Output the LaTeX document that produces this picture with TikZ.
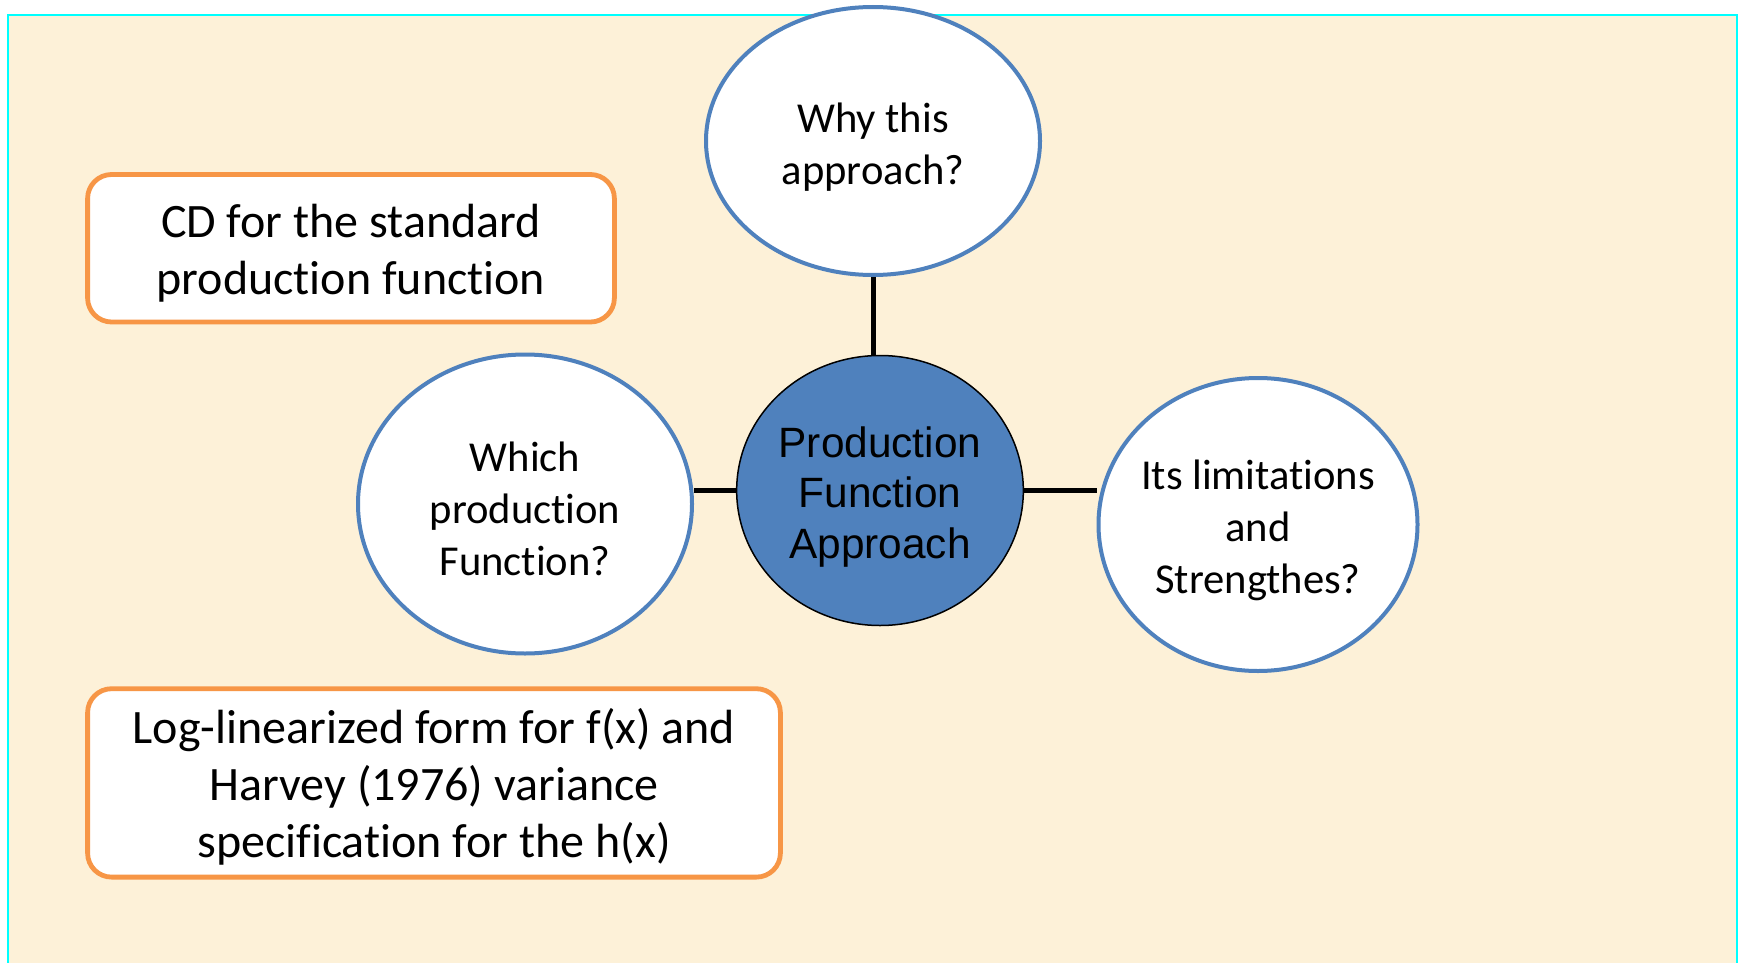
\documentclass[tikz,border=0pt]{standalone}
\usepackage{fontspec}
\setmainfont{Carlito}[Ligatures=NoCommon]
\newfontfamily\arialfont{Liberation Sans}
\usetikzlibrary{shapes.geometric}
\definecolor{parchment}{RGB}{253,241,216}
\definecolor{frameline}{RGB}{0,255,255}
\definecolor{bubbleblue}{RGB}{79,129,189}
\definecolor{boxorange}{RGB}{247,150,70}
\newcommand{\sink}[1]{\rule{0pt}{#1}}
\pgfdeclarelayer{paper}
\pgfdeclarelayer{back}
\pgfsetlayers{paper,back,main}
\tikzset{
  bubble/.style={ellipse, draw=bubbleblue, line width=2pt, fill=white, inner sep=0pt, align=center, font=\fontsize{21.3}{26}\selectfont},
  hub/.style={ellipse, draw=black, line width=0.75pt, fill=bubbleblue, inner sep=0pt, align=center, minimum width=143pt, minimum height=135pt, font=\arialfont\fontsize{21.2}{25.3}\selectfont},
  notebox/.style={rectangle, rounded corners=12pt, draw=boxorange, line width=2.4pt, fill=white, inner sep=0pt, align=center, font=\fontsize{24}{28.5}\selectfont},
  spoke/.style={line width=2.5pt, black}
}
\begin{document}
\begin{tikzpicture}[x=0.5pt,y=-0.5pt]
\useasboundingbox (0,0) rectangle (1745,963);
\begin{pgfonlayer}{paper}
\fill[parchment] (8,15) rectangle (1737,963);
\draw[frameline, line width=1pt] (8,963) -- (8,15) -- (1737,15) -- (1737,963);
\end{pgfonlayer}

\node[bubble, minimum width=167pt, minimum height=134pt] (why) at (873,141) {\sink{21pt}Why this\\approach?};
\node[hub] (pfa) at (880,490.5) {\sink{21.5pt}Production\\Function\\Approach};
\node[bubble, minimum width=167pt, minimum height=149.5pt] (which) at (525,504) {\sink{20pt}Which\\production\\Function?};
\node[bubble, minimum width=159.5pt, minimum height=146.5pt, inner xsep=-4pt] (limits) at (1258,524.5) {\sink{21pt}Its limitations\\and\\Strengthes?};

\node[notebox, minimum width=263.4pt, minimum height=73.75pt] (cd) at (351,248.25) {\sink{21.5pt}CD for the standard\\production function};
\node[notebox, minimum width=346.4pt, minimum height=94.2pt] (loglin) at (434,782.9) {\sink{21pt}Log-linearized form for f(x) and\\Harvey (1976) variance\\specification for the h(x)};

\begin{pgfonlayer}{back}
\draw[spoke] (why.south) -- (why.south |- pfa.north);
\draw[spoke] (pfa.west) -- (pfa.west -| which.east);
\draw[spoke] (pfa.east) -- (pfa.east -| limits.west);
\end{pgfonlayer}
\end{tikzpicture}
\end{document}
